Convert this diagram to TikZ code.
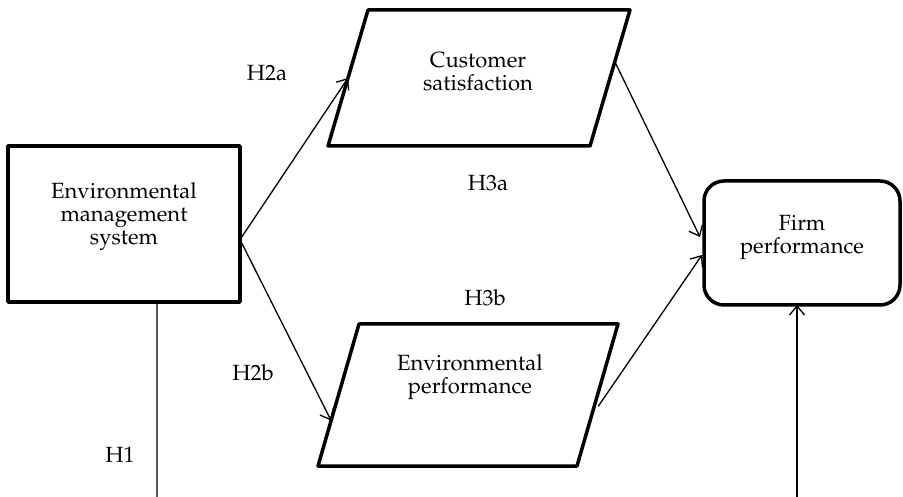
\documentclass[tikz,border=0pt]{standalone}
\usepackage[T1]{fontenc}
\usepackage{mathpazo}
\usetikzlibrary{arrows.meta,calc}
\begin{document}
\begin{tikzpicture}[x=1pt,y=-1pt,
  box/.style={draw,line width=3.5pt,inner sep=0pt,outer sep=0pt,line join=round},
  txt/.style={align=center,inner sep=0pt,font=\fontsize{22}{23}\selectfont},
  arr/.style={line width=1.3pt,-{Straight Barb[length=9pt,width=15pt,line width=1.3pt]}},
  plain/.style={line width=1.3pt}]
\useasboundingbox (0,0) rectangle (903,497);
% Environmental management system
\node[box,minimum width=232pt,minimum height=156pt] (ems) at (124,224) {};
\node[txt] (emst) at (124,217) {Environmental\\management\\system};
% Customer satisfaction
\coordinate (csBL) at (328,146);
\coordinate (csTL) at (368,10);
\coordinate (csTR) at (630,10);
\coordinate (csBR) at (590,146);
\draw[box] (csBL)--(csTL)--(csTR)--(csBR)--cycle;
\node[txt] (cs) at (478,72) {Customer\\satisfaction};
% Environmental performance
\coordinate (epBL) at (318,466);
\coordinate (epTL) at (359,324);
\coordinate (epTR) at (618,324);
\coordinate (epBR) at (577,466);
\draw[box] (epBL)--(epTL)--(epTR)--(epBR)--cycle;
\node[txt] (ep) at (470,377) {Environmental\\performance};
% Firm performance
\node[box,rounded corners=20pt,minimum width=196pt,minimum height=124pt] (fp) at (802,243) {};
\node[txt] (fpt) at (802,237) {Firm\\performance};
% connectors
\coordinate (emsR) at ($(ems.south east)!0.4!(ems.north east)$);
\draw[arr] (emsR) -- ($(csBL)!0.5!(csTL)$);
\draw[arr] (emsR) -- ($(epBL)!0.32!(epTL)$);
\draw[arr] ($(csBR)!0.62!(csTR)$) -- ($(fp.west)+(-4,-6)$);
\draw[arr] ($(epBR)!0.42!(epTR)+(4,0)$) -- ($(fp.west)+(-2,12)$);
\coordinate (h1b) at (157,497);
\draw[plain] ($(ems.south west)!0.642!(ems.south east)$) -- (h1b);
\coordinate (fpb) at (797,497);
\draw[arr] (fpb) -- ($(fp.south)+(-5,0)$);
% labels
\node[txt] (h2a) at (267,73) {H2a};
\node[txt] (h2b) at (253,373) {H2b};
\node[txt] (h3a) at (488,183) {H3a};
\node[txt] (h3b) at (485,298) {H3b};
\node[txt] (h1) at (120,455) {H1};
\end{tikzpicture}
\end{document}
